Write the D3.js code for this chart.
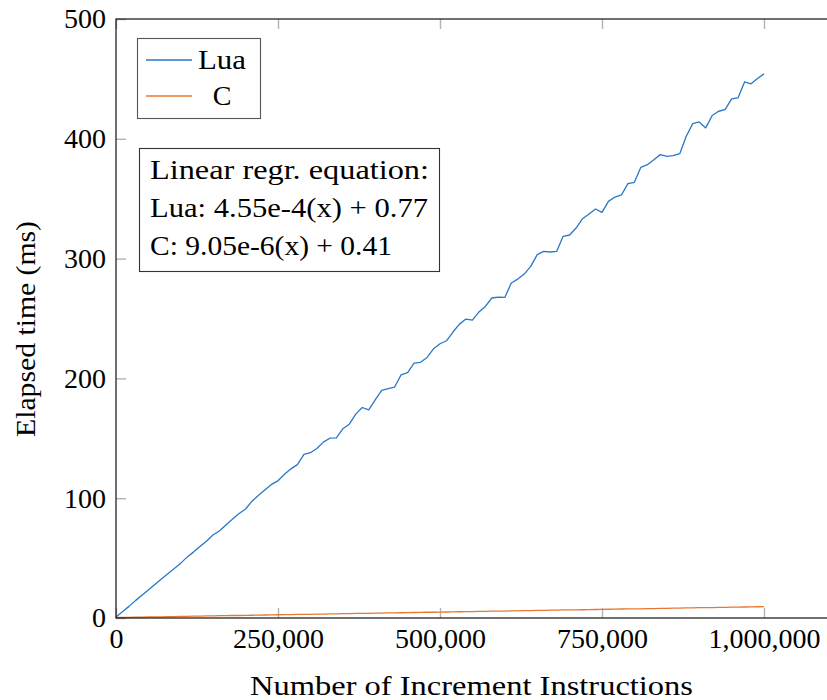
<!DOCTYPE html>
<html><head><meta charset="utf-8">
<script src="https://cdn.jsdelivr.net/npm/d3@7"></script>
<style>body{margin:0;background:#fff}svg{display:block}</style>
</head><body>
<svg id="c" width="827" height="700"></svg>
<script>
// Number of increment instructions (thousands)
const instructionsK = [0,10,20,30,40,50,60,70,80,90,100,110,120,130,140,150,160,170,180,190,200,210,220,230,240,250,260,270,280,290,300,310,320,330,340,350,360,370,380,390,400,410,420,430,440,450,460,470,480,490,500,510,520,530,540,550,560,570,580,590,600,610,620,630,640,650,660,670,680,690,700,710,720,730,740,750,760,770,780,790,800,810,820,830,840,850,860,870,880,890,900,910,920,930,940,950,960,970,980,990,1000];
// Elapsed time (ms)
const luaMs = [0.8,5.3,9.7,14.5,18.9,23.4,27.9,32.5,36.9,41.3,45.8,51.0,55.2,59.8,64.2,69.5,72.8,77.9,82.6,87.2,91.0,97.5,102.5,107.0,111.5,114.5,120.0,124.5,128.0,136.5,138.0,141.5,146.8,150.1,150.3,157.9,161.8,170.2,175.7,173.8,182.0,190.0,191.5,192.8,203.0,204.9,212.8,213.4,217.5,224.7,228.9,231.4,238.7,245.3,249.5,248.6,255.4,260.1,267.1,267.9,267.6,279.6,282.9,287.1,293.5,303.3,306.0,305.5,306.0,318.6,319.7,325.5,333.3,337.3,341.4,338.6,347.8,351.4,353.1,362.6,363.7,376.2,378.4,382.6,386.8,385.4,386.0,387.6,402.1,412.7,414.1,409.1,419.4,423.0,424.4,433.3,434.2,447.5,445.9,450.3,454.2];
const cMs = [0.4,0.5,0.6,0.7,0.8,0.9,1.0,1.0,1.1,1.2,1.3,1.4,1.5,1.6,1.7,1.8,1.9,2.0,2.1,2.1,2.2,2.3,2.4,2.5,2.6,2.7,2.8,2.9,3.0,3.0,3.1,3.2,3.3,3.4,3.5,3.6,3.7,3.8,3.9,3.9,4.0,4.1,4.2,4.3,4.4,4.5,4.6,4.7,4.8,4.8,4.9,5.0,5.1,5.2,5.3,5.4,5.5,5.6,5.7,5.7,5.8,5.9,6.0,6.1,6.2,6.3,6.4,6.5,6.6,6.7,6.7,6.8,6.9,7.0,7.1,7.2,7.3,7.4,7.5,7.6,7.6,7.7,7.8,7.9,8.0,8.1,8.2,8.3,8.4,8.5,8.6,8.6,8.7,8.8,8.9,9.0,9.1,9.2,9.3,9.4,9.5];
const xTicks = [0,250000,500000,750000,1000000];
const yTicks = [0,100,200,300,400,500];
const seriesNames = ["Lua","C"];
const seriesColors = ["#2878c8","#e8782e"];
const regrLines = ["Linear regr. equation:","Lua: 4.55e-4(x) + 0.77","C: 9.05e-6(x) + 0.41"];
const regrWidths = [279, 278, 242];
const xTitle = "Number of Increment Instructions";
const yTitle = "Elapsed time (ms)";

const FONT = "'Liberation Serif', 'Times New Roman', serif";
const svg = d3.select("#c").style("font-family", FONT);
const m = {l:116, t:19, r:828.8, b:618};
const x = d3.scaleLinear().domain([0, 1100000]).range([m.l, m.r]);
const y = d3.scaleLinear().domain([0, 500]).range([m.b, m.t]);

function styleAxis(g){
  g.select(".domain").remove();
  g.selectAll(".tick line").attr("stroke","#b4b4b4").attr("stroke-width",1.4);
  g.selectAll(".tick text").attr("fill","#000").style("font-size","28px").style("font-family",FONT);
}
svg.append("g").attr("transform",`translate(0,${m.b})`)
  .call(d3.axisBottom(x).tickValues(xTicks).tickFormat(d3.format(",")).tickSize(-10).tickPadding(10)).call(styleAxis);
svg.append("g").attr("transform",`translate(0,${m.t})`)
  .call(d3.axisTop(x).tickValues(xTicks).tickFormat("").tickSize(-10)).call(styleAxis);
svg.append("g").attr("transform",`translate(${m.l},0)`)
  .call(d3.axisLeft(y).tickValues(yTicks).tickSize(-10).tickPadding(10)).call(styleAxis);

const line = d3.line().x((d,i)=>x(instructionsK[i]*1000)).y(d=>y(d));
[luaMs, cMs].forEach((s,i)=>{
  svg.append("path").datum(s).attr("d",line).attr("fill","none")
    .attr("stroke",seriesColors[i]).attr("stroke-width",1.3).attr("stroke-linejoin","round");
});

svg.append("rect").attr("x",m.l).attr("y",m.t).attr("width",m.r-m.l).attr("height",m.b-m.t)
  .attr("fill","none").attr("stroke","#111").attr("stroke-width",1.2);

// legend
const lg = svg.append("g");
lg.append("rect").attr("x",137.5).attr("y",38.5).attr("width",123).attr("height",80)
  .attr("fill","#fff").attr("stroke","#555").attr("stroke-width",1.1);
seriesNames.forEach((n,i)=>{
  const yy = 60 + i*36;
  lg.append("line").attr("x1",146).attr("x2",192).attr("y1",yy).attr("y2",yy)
    .attr("stroke",seriesColors[i]).attr("stroke-width",1.3);
  const t = lg.append("text").attr("x",222).attr("y",yy+9).attr("text-anchor","middle")
    .style("font-size","28px").text(n);
  if (n === "Lua") t.attr("textLength",48).attr("lengthAdjust","spacingAndGlyphs");
});

// regression box
const rb = svg.append("g");
rb.append("rect").attr("x",139.5).attr("y",148.5).attr("width",300).attr("height",123)
  .attr("fill","#fff").attr("stroke","#333").attr("stroke-width",1.1);
regrLines.forEach((t,i)=>{
  rb.append("text").attr("x",150).attr("y",179+i*38).style("font-size","28px")
    .attr("textLength",regrWidths[i]).attr("lengthAdjust","spacingAndGlyphs").text(t);
});

svg.append("text").attr("x",471.5).attr("y",695).attr("text-anchor","middle")
  .style("font-size","28px").attr("textLength",443).attr("lengthAdjust","spacingAndGlyphs").text(xTitle);
svg.append("text").attr("transform","translate(35,329) rotate(-90)").attr("text-anchor","middle")
  .style("font-size","28px").attr("textLength",216).attr("lengthAdjust","spacingAndGlyphs").text(yTitle);
</script>
</body></html>
